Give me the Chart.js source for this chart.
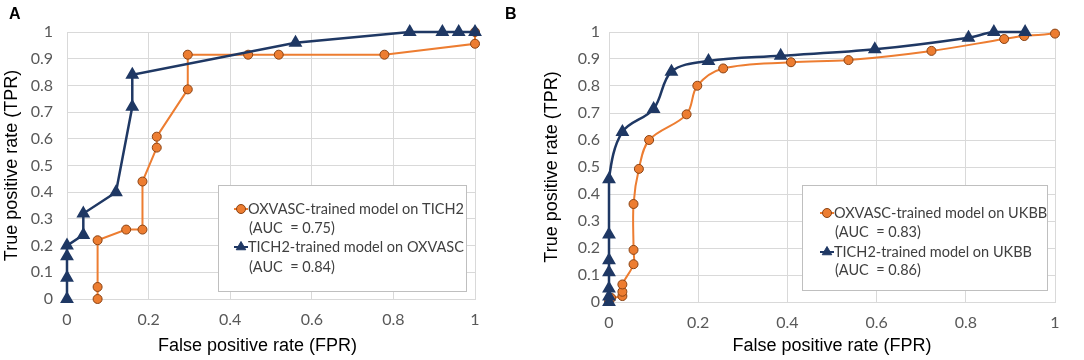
<!DOCTYPE html>
<html>
<head>
<meta charset="utf-8">
<script src="https://cdn.jsdelivr.net/npm/chart.js@4.4.1/dist/chart.umd.min.js"></script>
<style>
  body { margin: 0; background: #fff; }
  #wrap { position: relative; width: 1084px; height: 360px; }
  .panel { position: absolute; top: 0; height: 360px; }
  .letter { position: absolute; top: 5px; font: bold 16px "Liberation Sans", Arial, sans-serif; color: #000; }
</style>
</head>
<body>
<div id="wrap">
  <div class="panel" style="left:0;width:540px"><canvas id="chartA"></canvas></div>
  <div class="panel" style="left:540px;width:544px"><canvas id="chartB"></canvas></div>
  <div class="letter" style="left:9px">A</div>
  <div class="letter" style="left:505px">B</div>
</div>
<script>
// tick labels
const xTicks = ['0', '0.2', '0.4', '0.6', '0.8', '1'];
const yTicks = ['0', '0.1', '0.2', '0.3', '0.4', '0.5', '0.6', '0.7', '0.8', '0.9', '1'];

// Panel A: OXVASC-trained model on TICH2 (orange)
const fprA1 = [0.075, 0.075, 0.075, 0.145, 0.185, 0.185, 0.22, 0.22, 0.296, 0.296, 0.444, 0.519, 0.778, 1, 1];
const tprA1 = [0, 0.045, 0.22, 0.26, 0.26, 0.44, 0.567, 0.608, 0.785, 0.915, 0.915, 0.915, 0.915, 0.956, 1];
// Panel A: TICH2-trained model on OXVASC (navy)
const fprA2 = [0, 0, 0, 0, 0.04, 0.04, 0.12, 0.16, 0.16, 0.56, 0.84, 0.92, 0.96, 1];
const tprA2 = [0, 0.08, 0.16, 0.2, 0.24, 0.32, 0.4, 0.72, 0.84, 0.96, 1, 1, 1, 1];

// Panel B: OXVASC-trained model on UKBB (orange)
const fprB1 = [0, 0.005, 0.03, 0.03, 0.03, 0.055, 0.055, 0.055, 0.067, 0.09, 0.174, 0.198, 0.256, 0.408, 0.537, 0.723, 0.886, 0.931, 1];
const tprB1 = [0.005, 0.015, 0.022, 0.038, 0.065, 0.14, 0.193, 0.363, 0.493, 0.6, 0.695, 0.801, 0.865, 0.888, 0.896, 0.93, 0.974, 0.985, 0.994];
// Panel B: TICH2-trained model on UKBB (navy)
const fprB2 = [0, 0, 0, 0, 0, 0, 0, 0.03, 0.1, 0.14, 0.223, 0.385, 0.596, 0.806, 0.863, 0.933];
const tprB2 = [0, 0.02, 0.05, 0.11, 0.155, 0.25, 0.455, 0.63, 0.715, 0.853, 0.893, 0.912, 0.936, 0.979, 1, 1];

const labelsA = ['OXVASC-trained model on TICH2', 'TICH2-trained model on OXVASC'];
const aucA = ['(AUC  = 0.75)', '(AUC  = 0.84)'];
const labelsB = ['OXVASC-trained model on UKBB', 'TICH2-trained model on UKBB'];
const aucB = ['(AUC  = 0.83)', '(AUC  = 0.86)'];

const ORANGE = '#ed7d31';
const NAVY = '#1f3864';
const GRID = '#d9d9d9';
const TICK = '#595959';

function pts(xs, ys) {
    return xs.map((x, i) => ({ x: x, y: ys[i] }));
}

// legend drawn in a framed box inside the plot
const boxLegend = {
    id: 'boxLegend',
    afterDraw(chart, args, o) {
        const ctx = chart.ctx;
        ctx.save();
        ctx.fillStyle = '#fff';
        ctx.strokeStyle = '#bfbfbf';
        ctx.lineWidth = 1;
        ctx.fillRect(o.x, o.y, o.w, o.h);
        ctx.strokeRect(o.x + 0.5, o.y + 0.5, o.w, o.h);
        ctx.font = '14.5px Lato, "Open Sans", sans-serif';
        ctx.textBaseline = 'middle';
        o.items.forEach((it, i) => {
            const ds = chart.data.datasets[it.ds];
            const y = o.lines[i * 2];
            ctx.strokeStyle = ds.borderColor;
            ctx.lineWidth = 2;
            ctx.beginPath();
            ctx.moveTo(o.sx - 7, y);
            ctx.lineTo(o.sx + 7, y);
            ctx.stroke();
            ctx.fillStyle = ds.pointBackgroundColor;
            ctx.strokeStyle = ds.pointBorderColor;
            ctx.lineWidth = 1;
            Chart.helpers.drawPoint(ctx, { pointStyle: ds.pointStyle, radius: ds.pointRadius, borderWidth: 1, rotation: 0 }, o.sx, y);
            ctx.fillStyle = '#404040';
            ctx.fillText(it.text, o.tx, y);
            ctx.fillText(it.auc, o.tx + 1, o.lines[i * 2 + 1]);
        });
        ctx.restore();
    }
};

function makeChart(id, orange, navy, pad, yWidth, xHeight, yPad, xTitle, legend, tension) {
    const ctx = document.getElementById(id).getContext('2d');
    return new Chart(ctx, {
        type: 'scatter',
        data: {
            datasets: [{
                label: legend.items[1].text,
                data: navy,
                showLine: true,
                clip: false,
                borderColor: NAVY,
                borderWidth: 2.5,
                pointStyle: 'triangle',
                pointRadius: 5.5,
                pointBackgroundColor: NAVY,
                pointBorderColor: NAVY,
                tension: tension
            }, {
                label: legend.items[0].text,
                data: orange,
                showLine: true,
                clip: false,
                borderColor: ORANGE,
                borderWidth: 2,
                pointStyle: 'circle',
                pointRadius: 4.5,
                pointBackgroundColor: ORANGE,
                pointBorderColor: '#8a4314',
                pointBorderWidth: 1,
                tension: tension
            }]
        },
        options: {
            responsive: true,
            maintainAspectRatio: false,
            animation: false,
            layout: { padding: pad },
            plugins: {
                legend: { display: false },
                tooltip: { enabled: false },
                boxLegend: legend
            },
            scales: {
                x: {
                    type: 'linear',
                    min: 0, max: 1,
                    afterFit: s => { s.height = xHeight; },
                    grid: { color: GRID, drawTicks: false },
                    border: { color: GRID },
                    ticks: {
                        stepSize: 0.2,
                        padding: 11,
                        color: TICK,
                        font: { family: 'Lato', size: 16 },
                        callback: (v, i) => xTicks[i]
                    },
                    title: {
                        display: true,
                        text: xTitle,
                        color: '#000',
                        font: { family: '"Liberation Sans", Arial', size: 18 },
                        padding: { top: 0, bottom: 3 }
                    }
                },
                y: {
                    type: 'linear',
                    min: 0, max: 1,
                    afterFit: s => { s.width = yWidth; },
                    grid: { color: GRID, drawTicks: false },
                    border: { color: GRID },
                    ticks: {
                        stepSize: 0.1,
                        padding: yPad,
                        color: TICK,
                        font: { family: 'Lato', size: 16 },
                        callback: (v, i) => yTicks[i]
                    },
                    title: {
                        display: true,
                        text: 'True positive rate (TPR)',
                        color: '#000',
                        font: { family: '"Liberation Sans", Arial', size: 18 },
                        padding: { top: 1, bottom: 0 }
                    }
                }
            }
        },
        plugins: [boxLegend]
    });
}

// panel A title sits a little left of the plot centre in the original
makeChart('chartA', pts(fprA1, tprA1), pts(fprA2, tprA2),
    { top: 32, right: 65, bottom: 0, left: 0 }, 67, 61, 14,
    'False positive rate (FPR)\u2002\u2002\u2002',
    {
        x: 218, y: 185, w: 248, h: 106, sx: 241, tx: 248,
        lines: [209, 228, 247, 267],
        items: [{ ds: 1, text: labelsA[0], auc: aucA[0] }, { ds: 0, text: labelsA[1], auc: aucA[1] }]
    }, 0);

makeChart('chartB', pts(fprB1, tprB1), pts(fprB2, tprB2),
    { top: 32, right: 29, bottom: 0, left: 0 }, 69, 58, 9,
    'False positive rate (FPR)',
    {
        x: 262, y: 185, w: 245, h: 105, sx: 287, tx: 294,
        lines: [213, 232, 252, 270],
        items: [{ ds: 1, text: labelsB[0], auc: aucB[0] }, { ds: 0, text: labelsB[1], auc: aucB[1] }]
    }, 0.35);
</script>
</body>
</html>
